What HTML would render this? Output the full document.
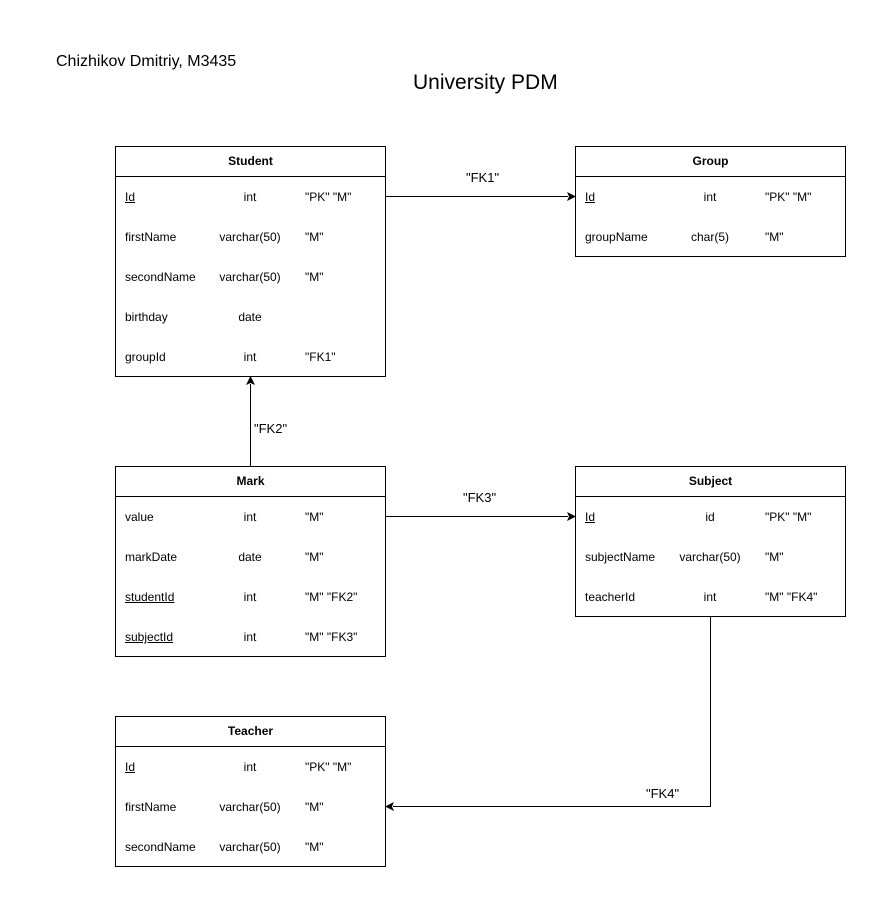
<!DOCTYPE html>
<html><head><style>
body{margin:0;width:896px;height:917px;background:#fff;position:relative;font-family:"Liberation Sans",Arial,sans-serif;color:#000;overflow:hidden}
.t{position:absolute;border:1px solid #000;box-sizing:border-box;background:#fff}
.h{height:29px;border-bottom:1px solid #000;text-align:center;font-weight:bold;font-size:12px;line-height:29px}
.r{position:relative;height:40px;font-size:12px}
.r span{position:absolute;top:13px}
.a{left:9px}.b{width:100px;left:84px;text-align:center}.c{left:189px}
u{text-decoration:underline}
.l{position:absolute;font-size:13px}
</style></head><body>
<div class="l" style="left:56px;top:53px;font-size:16px">Chizhikov Dmitriy, M3435</div>
<div class="l" style="left:413px;top:71px;font-size:21px">University PDM</div>
<svg width="896" height="917" style="position:absolute;left:0;top:0">
<g stroke="#000" fill="none" stroke-width="1">
<path d="M385.5 196.5H568"/><path d="M385.5 516.5H568"/>
<path d="M250.5 466V384"/><path d="M710.5 616V806.5H393"/>
</g>
<g fill="#000">
<path d="M576 196.5l-9-4.5 2 4.5-2 4.5z"/>
<path d="M576 516.5l-9-4.5 2 4.5-2 4.5z"/>
<path d="M250.5 376l-4.5 9 4.5-2 4.5 2z"/>
<path d="M385 806.5l9-4.5-2 4.5 2 4.5z"/>
</g>
</svg>
<div class="l" style="left:466px;top:170px">"FK1"</div>
<div class="l" style="left:254px;top:421px">"FK2"</div>
<div class="l" style="left:463px;top:490px">"FK3"</div>
<div class="l" style="left:646px;top:786px">"FK4"</div>

<div class="t" style="left:115px;top:146px;width:271px;height:231px">
<div class="h">Student</div>
<div class="r"><span class="a"><u>Id</u></span><span class="b">int</span><span class="c">"PK" "M"</span></div>
<div class="r"><span class="a">firstName</span><span class="b">varchar(50)</span><span class="c">"M"</span></div>
<div class="r"><span class="a">secondName</span><span class="b">varchar(50)</span><span class="c">"M"</span></div>
<div class="r"><span class="a">birthday</span><span class="b">date</span></div>
<div class="r"><span class="a">groupId</span><span class="b">int</span><span class="c">"FK1"</span></div>
</div>
<div class="t" style="left:575px;top:146px;width:271px;height:111px">
<div class="h">Group</div>
<div class="r"><span class="a"><u>Id</u></span><span class="b">int</span><span class="c">"PK" "M"</span></div>
<div class="r"><span class="a">groupName</span><span class="b">char(5)</span><span class="c">"M"</span></div>
</div>
<div class="t" style="left:115px;top:466px;width:271px;height:191px">
<div class="h">Mark</div>
<div class="r"><span class="a">value</span><span class="b">int</span><span class="c">"M"</span></div>
<div class="r"><span class="a">markDate</span><span class="b">date</span><span class="c">"M"</span></div>
<div class="r"><span class="a"><u>studentId</u></span><span class="b">int</span><span class="c">"M" "FK2"</span></div>
<div class="r"><span class="a"><u>subjectId</u></span><span class="b">int</span><span class="c">"M" "FK3"</span></div>
</div>
<div class="t" style="left:575px;top:466px;width:271px;height:151px">
<div class="h">Subject</div>
<div class="r"><span class="a"><u>Id</u></span><span class="b">id</span><span class="c">"PK" "M"</span></div>
<div class="r"><span class="a">subjectName</span><span class="b">varchar(50)</span><span class="c">"M"</span></div>
<div class="r"><span class="a">teacherId</span><span class="b">int</span><span class="c">"M" "FK4"</span></div>
</div>
<div class="t" style="left:115px;top:716px;width:271px;height:151px">
<div class="h">Teacher</div>
<div class="r"><span class="a"><u>Id</u></span><span class="b">int</span><span class="c">"PK" "M"</span></div>
<div class="r"><span class="a">firstName</span><span class="b">varchar(50)</span><span class="c">"M"</span></div>
<div class="r"><span class="a">secondName</span><span class="b">varchar(50)</span><span class="c">"M"</span></div>
</div>
</body></html>
